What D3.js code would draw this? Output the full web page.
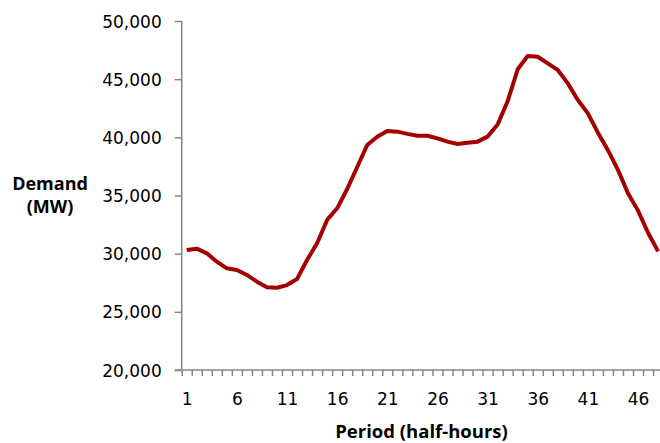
<!DOCTYPE html>
<html><head><meta charset="utf-8">
<script src="https://cdn.jsdelivr.net/npm/d3@7"></script>
<style>
body{margin:0;background:#fff;}
svg{display:block;}
.tk text{font-family:"DejaVu Sans",sans-serif;font-size:17px;fill:#000;}
.ttl{font-family:"Open Sans",sans-serif;font-weight:bold;fill:#000;}
</style></head>
<body>
<svg id="c" width="660" height="443"></svg>
<script>
const periods = d3.range(1, 49);
const demand = [30320,30430,30030,29310,28740,28600,28170,27590,27110,27070,
  27300,27820,29460,30890,32900,33900,35560,37450,39340,40050,
  40540,40490,40300,40140,40140,39910,39630,39430,39540,39630,
  40060,41100,43100,45850,46990,46930,46360,45790,44640,43210,
  42060,40400,38900,37200,35200,33700,31800,30200];
const yTicks = [20000,25000,30000,35000,40000,45000,50000];
const xLabels = [1,6,11,16,21,26,31,36,41,46];

const svg = d3.select("#c");
const x = d3.scaleLinear().domain([0.5, 48.5]).range([181.7, 663.1]);
const y = d3.scaleLinear().domain([20000, 50000]).range([370, 21]);
const axisColor = "#868686";

// Y axis
const ya = svg.append("g").attr("class","tk").attr("transform","translate(181.7,0)")
  .call(d3.axisLeft(y).tickValues(yTicks).tickSize(7).tickPadding(13).tickFormat(d3.format(",")));
ya.select(".domain").attr("stroke",axisColor).attr("stroke-width",1.5).attr("d","M0,21V370");
ya.selectAll(".tick line").attr("stroke",axisColor).attr("stroke-width",1.5);
ya.selectAll(".tick text").attr("dy","0.36em");

// X axis minor ticks
const xa = svg.append("g").attr("transform","translate(0,370)")
  .call(d3.axisBottom(x).tickValues(d3.range(0.5, 48.6, 1)).tickSize(6).tickFormat(""));
xa.select(".domain").attr("stroke",axisColor).attr("stroke-width",1.5).attr("d","M174.7,0H663.1");
xa.selectAll(".tick line").attr("stroke",axisColor).attr("stroke-width",1.5);

// X labels
const xl = svg.append("g").attr("class","tk").attr("transform","translate(0,370)")
  .call(d3.axisBottom(x).tickValues(xLabels).tickSize(0).tickPadding(23));
xl.select(".domain").remove();

// Line
svg.append("path").datum(demand)
  .attr("fill","none").attr("stroke","#a50000").attr("stroke-width",4)
  .attr("stroke-linejoin","round")
  .attr("d", d3.line().x((d,i)=>x(periods[i])).y(d=>y(d)));

// Titles
svg.append("text").attr("class","ttl").attr("font-size",18).attr("x",50).attr("y",189.5).attr("text-anchor","middle").text("Demand");
svg.append("text").attr("class","ttl").attr("font-size",18).attr("x",50).attr("y",213).attr("text-anchor","middle").text("(MW)");
svg.append("text").attr("class","ttl").attr("font-size",18.5).attr("x",421.5).attr("y",438).attr("text-anchor","middle").text("Period (half-hours)");
</script>
</body></html>
